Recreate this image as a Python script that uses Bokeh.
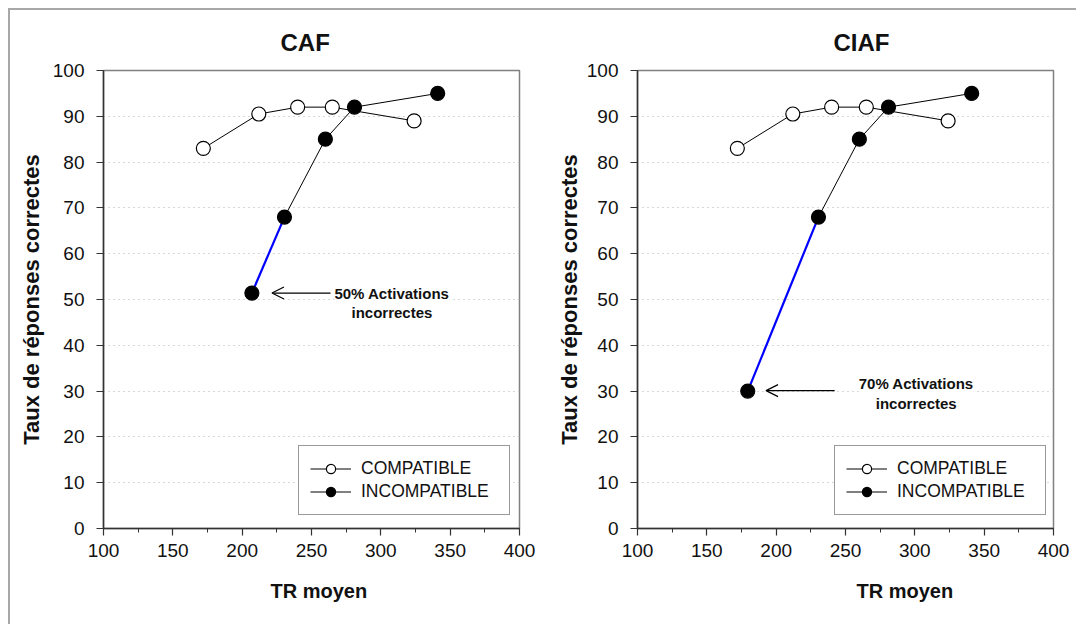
from bokeh.plotting import figure
from bokeh.layouts import row
from bokeh.models import (Label, Arrow, OpenHead, Legend, LegendItem, Title,
                          SingleIntervalTicker, Range1d)
from bokeh.embed import file_html
from bokeh.resources import INLINE

FONT = "Liberation Sans"

# ---- data ----
compat_x = [172, 212, 240, 265, 324]
compat_y = [83, 90.5, 92, 92, 89]

caf_incompat_x = [207, 230.5, 260, 281, 341]
caf_incompat_y = [51.4, 68, 85, 92, 95]

ciaf_incompat_x = [179.5, 230.5, 260, 281, 341]
ciaf_incompat_y = [30, 68, 85, 92, 95]

panel_titles = ["CAF", "CIAF"]
series_labels = ["COMPATIBLE", "INCOMPATIBLE"]
x_label = "TR moyen"
y_label = "Taux de réponses correctes"
caf_note = ["50% Activations", "incorrectes"]
ciaf_note = ["70% Activations", "incorrectes"]


def make_panel(title, inc_x, inc_y, note, note_x, note_y, arr_tail, arr_tip, arr_y,
               title_off, xlab_off, xlab_standoff, width, left, right, ylab_standoff,
               legend_x):
    p = figure(width=width, height=614, output_backend="svg", toolbar_location=None,
               x_range=Range1d(100, 400), y_range=Range1d(0, 100),
               min_border_left=left, min_border_right=right,
               min_border_top=60, min_border_bottom=96,
               background_fill_color="white", border_fill_color="white")

    p.title.text = title
    p.title.align = "left"
    p.title.offset = title_off
    p.title.standoff = 29
    p.title.text_font = FONT
    p.title.text_font_style = "bold"
    p.title.text_font_size = "24px"
    p.title.text_color = "#111111"

    # axes
    p.xaxis.ticker = SingleIntervalTicker(interval=50, num_minor_ticks=2)
    p.yaxis.ticker = SingleIntervalTicker(interval=10, num_minor_ticks=0)
    for ax in (p.xaxis, p.yaxis):
        ax.axis_line_color = "#333333"
        ax.axis_line_width = 1.5
        ax.major_tick_line_color = "#333333"
        ax.major_tick_line_width = 1.2
        ax.minor_tick_line_color = "#333333"
        ax.major_tick_in = 0
        ax.major_tick_out = 7
        ax.minor_tick_in = 0
        ax.minor_tick_out = 4
        ax.major_label_text_font = FONT
        ax.major_label_text_font_size = "19px"
        ax.major_label_text_color = "#111111"
    p.xaxis.major_label_standoff = 8
    p.yaxis.major_label_standoff = 12
    p.yaxis.axis_label = y_label
    p.yaxis.axis_label_text_font = FONT
    p.yaxis.axis_label_text_font_style = "bold"
    p.yaxis.axis_label_text_font_size = "22px"
    p.yaxis.axis_label_text_color = "#111111"
    p.yaxis.axis_label_standoff = ylab_standoff

    xt = Title(text=x_label, align="left", offset=xlab_off, standoff=xlab_standoff,
               text_font=FONT, text_font_style="bold", text_font_size="20px",
               text_color="#111111")
    p.add_layout(xt, "below")

    p.xgrid.visible = False
    p.ygrid.grid_line_color = "#b0b0b0"
    p.ygrid.grid_line_dash = "1 4"
    p.ygrid.grid_line_width = 1

    p.outline_line_color = "#808080"
    p.outline_line_width = 1.5

    # series
    l_c = p.line(compat_x, compat_y, line_color="black", line_width=1)
    p.line(inc_x[:2], inc_y[:2], line_color="#0000ff", line_width=2.2)
    l_i = p.line(inc_x[1:], inc_y[1:], line_color="black", line_width=1)
    s_c = p.scatter(compat_x, compat_y, size=14, marker="circle",
                    fill_color="white", line_color="black", line_width=1.2)
    s_i = p.scatter(inc_x, inc_y, size=14, marker="circle",
                    fill_color="black", line_color="black", line_width=1.2)

    legend = Legend(items=[LegendItem(label=series_labels[0], renderers=[l_c, s_c]),
                           LegendItem(label=series_labels[1], renderers=[l_i, s_i])],
                    location=(legend_x, 13))
    legend.label_text_font = FONT
    legend.label_text_font_size = "17.5px"
    legend.label_text_color = "#111111"
    legend.glyph_width = 41
    legend.glyph_height = 23
    legend.label_height = 23
    legend.label_width = 137
    legend.spacing = 0
    legend.padding = 11
    legend.label_standoff = 10
    legend.margin = 0
    legend.border_line_color = "#333333"
    legend.border_line_width = 1.5
    legend.background_fill_color = "white"
    legend.background_fill_alpha = 1
    p.add_layout(legend)

    # annotation
    p.add_layout(Arrow(end=OpenHead(size=12, line_width=1.2, line_color="black"),
                       x_start=arr_tail, y_start=arr_y, x_end=arr_tip, y_end=arr_y,
                       line_width=1.2, line_color="black"))
    for txt, ny in zip(note, note_y):
        p.add_layout(Label(x=note_x, y=ny, text=txt, text_align="center",
                           text_baseline="middle", text_font=FONT,
                           text_font_style="bold", text_font_size="15px",
                           text_color="#111111",
                           background_fill_color="white", background_fill_alpha=1))
    return p


p1 = make_panel(panel_titles[0], caf_incompat_x, caf_incompat_y,
                caf_note, 308, [51.4, 47.2], 263.7, 221.5, 51.4,
                177, 167, 37, 530, 93, 21, 6, 195)
p2 = make_panel(panel_titles[1], ciaf_incompat_x, ciaf_incompat_y,
                ciaf_note, 301, [31.6, 27.2], 242.2, 192.7, 30.1,
                196, 219, 36, 536, 97, 23, 2, 197)

layout = row(p1, p2, styles={"border-top": "2px solid #a8a8a8",
                             "border-left": "2px solid #a8a8a8",
                             "margin-top": "8px", "margin-left": "8px"})

open("out.html", "w").write(file_html(layout, INLINE))
